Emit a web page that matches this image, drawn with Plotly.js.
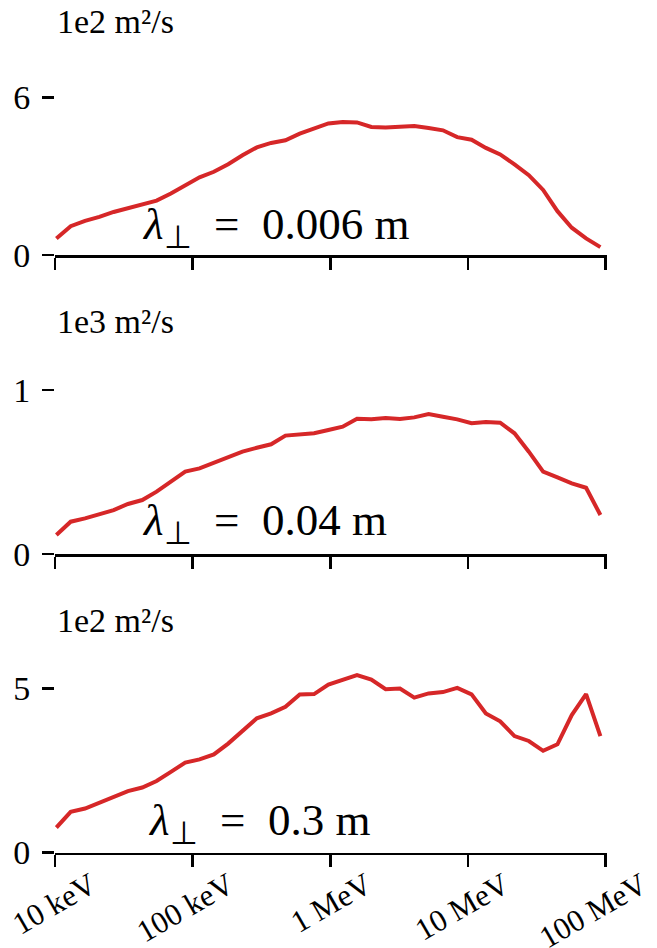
<!DOCTYPE html>
<html><head><meta charset="utf-8">
<script src="https://cdn.plot.ly/plotly-3.0.1.min.js"></script>
<style>html,body{margin:0;padding:0;background:#fff}#chart{width:657px;height:948px}</style>
</head><body><div id="chart"></div>
<script>
// Energies in keV
const energy_keV = [10.23, 13.00, 16.52, 20.99, 26.67, 33.88, 43.05, 54.70, 69.50, 88.31,
  112.2, 142.6, 181.1, 230.1, 292.4, 371.5, 472.1, 599.8, 762.1, 968.3,
  1230, 1563, 1986, 2523, 3206, 4074, 5176, 6577, 8356, 10617,
  13490, 17140, 21780, 27670, 35160, 44670, 56750, 72110, 91620];

// Panel 1: lambda_perp = 0.006 m, units 1e2 m^2/s
const d_0006 = [0.63,1.10,1.30,1.45,1.64,1.79,1.93,2.07,2.34,2.64,
  2.96,3.17,3.46,3.80,4.10,4.27,4.37,4.62,4.80,5.01,
  5.07,5.05,4.88,4.86,4.89,4.91,4.84,4.75,4.49,4.39,
  4.08,3.83,3.45,3.04,2.48,1.67,1.04,0.63,0.30];
// Panel 2: lambda_perp = 0.04 m, units 1e3 m^2/s
const d_004 = [0.116,0.197,0.217,0.244,0.268,0.305,0.329,0.380,0.441,0.502,
  0.522,0.557,0.587,0.624,0.648,0.669,0.722,0.732,0.736,0.756,
  0.776,0.825,0.821,0.829,0.823,0.833,0.854,0.837,0.821,0.797,
  0.805,0.801,0.736,0.624,0.502,0.467,0.431,0.404,0.238];
// Panel 3: lambda_perp = 0.3 m, units 1e2 m^2/s
const d_03 = [0.76,1.24,1.34,1.52,1.72,1.87,1.98,2.18,2.46,2.74,
  2.84,2.99,3.32,3.71,4.09,4.24,4.44,4.82,4.83,5.12,
  5.25,5.41,5.27,4.98,5.00,4.72,4.85,4.89,5.02,4.82,
  4.24,4.00,3.55,3.40,3.10,3.30,4.19,4.83,3.55];

const xTickVals = [10, 100, 1000, 10000, 100000];
const xTickText = ["10 keV", "100 keV", "1 MeV", "10 MeV", "100 MeV"];
const unitLabels = ["1e2 m²/s", "1e3 m²/s", "1e2 m²/s"];
const lambdaLabels = ["0.006 m", "0.04 m", "0.3 m"];
const yTickVals = [[0, 6], [0, 1], [0, 5]];

const W = 657, H = 948;
const py = y => 1 - y / H;
const SERIF = "Liberation Serif";
const RED = "#d62728";

const series = [d_0006, d_004, d_03];
const traces = series.map((s, i) => ({
  x: energy_keV, y: s, type: "scatter", mode: "lines",
  line: {color: RED, width: 4},
  xaxis: i === 0 ? "x" : "x" + (i + 1),
  yaxis: i === 0 ? "y" : "y" + (i + 1),
  hoverinfo: "skip"
}));

const panels = [
  {top: 60, bot: 255, ppu: 26.25},
  {top: 360, bot: 554, ppu: 164},
  {top: 658, bot: 852.5, ppu: 32.8}
];

const layout = {
  width: W, height: H,
  margin: {l: 0, r: 0, t: 0, b: 0},
  paper_bgcolor: "#fff", plot_bgcolor: "#fff",
  showlegend: false,
  font: {family: SERIF, color: "#000"},
  annotations: []
};

panels.forEach((p, i) => {
  const sx = i === 0 ? "" : String(i + 1);
  const xa = {
    type: "log", range: [1, 5.01],
    domain: [55 / W, 607 / W],
    anchor: "y" + sx,
    showline: true, linecolor: "#000", linewidth: 2.5,
    ticks: "outside", ticklen: 12, tickwidth: 2.5, tickcolor: "#000",
    tickvals: xTickVals,
    showticklabels: i === 2,
    showgrid: false, zeroline: false, automargin: false, fixedrange: true
  };
  if (i === 2) {
    xa.ticktext = xTickText;
    xa.tickangle = -30;
    xa.ticklabelshift = 36;
    xa.ticklabelstandoff = -12;
    xa.ticklabeloverflow = "allow";
    xa.tickfont = {family: SERIF, size: 31, color: "#000"};
  }
  layout["xaxis" + sx] = xa;
  layout["yaxis" + sx] = {
    domain: [py(p.bot), py(p.top)],
    range: [0, (p.bot - p.top) / p.ppu],
    anchor: "x" + sx,
    showline: false, showgrid: false, zeroline: false,
    ticks: "outside", ticklen: 12, tickwidth: 2.5, tickcolor: "#000",
    tickvals: yTickVals[i], ticktext: yTickVals[i].map(String),
    ticklabelstandoff: 5,
    tickfont: {family: SERIF, size: 34, color: "#000"},
    automargin: false, fixedrange: true
  };
});

const unitY = [21, 322, 620];
const lamX = [140, 140, 146];
const lamY = [227.5, 522.5, 822.5];
unitLabels.forEach((t, i) => {
  layout.annotations.push({
    text: t, xref: "paper", yref: "paper", x: 55 / W, y: py(unitY[i]),
    xanchor: "left", yanchor: "middle", showarrow: false,
    font: {family: SERIF, size: 34, color: "#000"}
  });
  layout.annotations.push({
    text: "<i>λ</i><sub>⊥</sub>\u2002=\u2002" + lambdaLabels[i],
    xref: "paper", yref: "paper", x: lamX[i] / W, y: py(lamY[i]),
    xanchor: "left", yanchor: "middle", showarrow: false,
    font: {family: SERIF, size: 45, color: "#000"}
  });
});

Plotly.newPlot("chart", traces, layout, {staticPlot: true, displayModeBar: false});
</script></body></html>
